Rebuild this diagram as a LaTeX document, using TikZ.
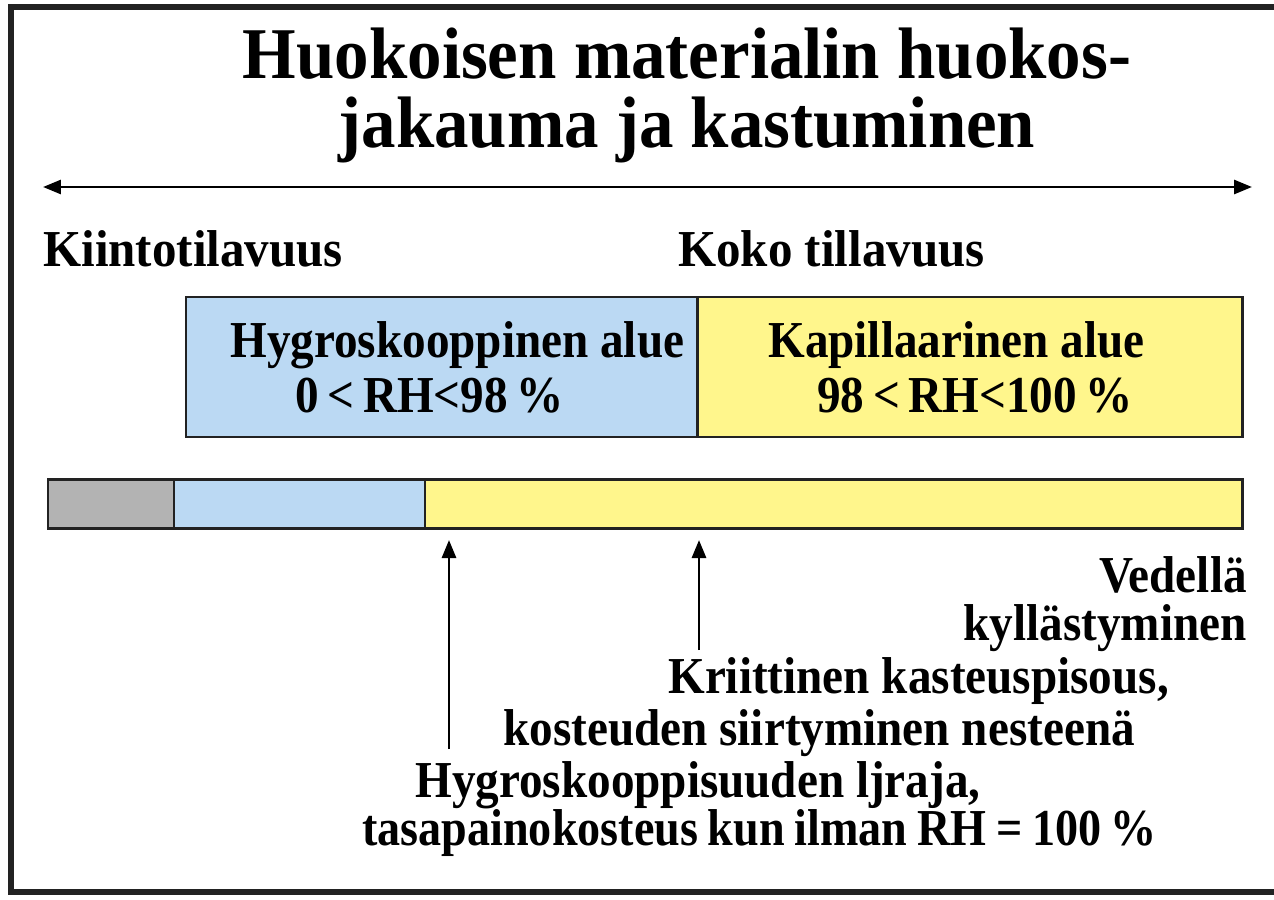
\documentclass[tikz,border=0pt]{standalone}
\usepackage{fontspec}
\setmainfont[FakeStretch=0.91]{Liberation Serif}
\newfontfamily\titlefont[FakeStretch=0.945]{Liberation Serif}
\newfontfamily\narrowfont[FakeStretch=0.89]{Liberation Serif}
\usetikzlibrary{arrows.meta}

\definecolor{framegray}{HTML}{222222}
\definecolor{hygblue}{HTML}{BBD9F3}
\definecolor{kapyellow}{HTML}{FFF68C}
\definecolor{solidgray}{HTML}{B3B3B3}

\tikzset{
  txt/.style={inner sep=0pt, font=\bfseries\fontsize{29.5}{34}\selectfont},
  ttl/.style={inner sep=0pt, font=\titlefont\bfseries\fontsize{41.5}{48}\selectfont},
  zone/.style={draw=framegray, line width=1.7pt},
  pointer/.style={line width=1.6pt, -{Triangle[length=0.36cm, width=0.28cm]}},
}

\begin{document}
\begin{tikzpicture}[x=0.02cm, y=-0.02cm]
	\fill [white] (0, 0) rectangle (1274, 899);
	\useasboundingbox (0, 0) rectangle (1274, 899);

	% frame, open on the right
	\draw [framegray, line width=3.4pt] (1274, 7) -- (11, 7) -- (11, 892) -- (1274, 892);

	% title
	\node [ttl, anchor=base] (title1) at (687, 78) {Huokoisen materialin huokos-};
	\node [ttl, anchor=base] (title2) at (687, 147) {jakauma ja kastuminen};

	\coordinate (scaleL) at (43, 187);
	\coordinate (scaleR) at (1252, 187);
	\draw [line width=1.6pt, {Triangle[length=0.36cm, width=0.28cm]}-{Triangle[length=0.36cm, width=0.28cm]}] (scaleL) -- (scaleR);

	\node [txt, font=\titlefont\bfseries\fontsize{29.5}{34}\selectfont, anchor=base west] (solid) at (43, 266) {Kiintotilavuus};
	\node [txt, font=\titlefont\bfseries\fontsize{29.5}{34}\selectfont, anchor=base west] (total) at (678, 266) {Koko tillavuus};

	% upper zones
	\coordinate (Z1) at (186, 297);
	\coordinate (Z2) at (697, 437);
	\coordinate (Z3) at (1242, 297);
	\fill [hygblue] (Z1) rectangle (Z2);
	\fill [kapyellow] (Z2) rectangle (Z3);
	\draw [zone] (Z1) rectangle (Z3 |- Z2);
	\draw [zone] (Z1 -| Z2) -- (Z2);

	\node [txt, anchor=base west] (hygzone) at (230, 357) {Hygroskooppinen alue};
	\node [txt, anchor=base west] (hygrange) at (295, 412) {0\,<\,RH<98\,\%};
	\node [txt, anchor=base west] (kapzone) at (768, 357) {Kapillaarinen alue};
	\node [txt, anchor=base west] (kaprange) at (817, 412) {98\,<\,RH<100\,\%};

	% lower bar
	\coordinate (B1) at (48, 479);
	\coordinate (B2) at (174, 528);
	\coordinate (B3) at (425, 479);
	\coordinate (B4) at (1242, 528);
	\fill [solidgray] (B1) rectangle (B2);
	\fill [hygblue] (B2 |- B1) rectangle (B3 |- B2);
	\fill [kapyellow] (B3) rectangle (B4);
	\draw [zone] (B1) rectangle (B4);
	\draw [zone] (B2 |- B1) -- (B2);
	\draw [zone] (B3) -- (B3 |- B4);

	\node [txt, anchor=base east] (sat1) at (1247, 592) {Vedellä};
	\node [txt, anchor=base east] (sat2) at (1247, 640) {kyllästyminen};

	\node [txt, anchor=base west] (crit1) at (668, 693) {Kriittinen kasteuspisous,};
	\node [txt, anchor=base west] (crit2) at (503, 745) {kosteuden siirtyminen nesteenä};
	\node [txt, anchor=base west] (hlim1) at (415, 797) {Hygroskooppisuuden ljraja,};
	\node [txt, font=\narrowfont\bfseries\fontsize{29.5}{34}\selectfont, anchor=base west] (hlim2) at (362, 845) {\spaceskip=0.19em\relax tasapainokosteus kun ilman RH = 100\,\%};

	% pointers up to the bar
	\coordinate (hlimfoot) at (449, 749);
	\coordinate (critfoot) at (699, 650);
	\draw [pointer] (hlimfoot) -- ([yshift=-0.24cm] hlimfoot |- B4);
	\draw [pointer] (critfoot) -- ([yshift=-0.24cm] critfoot |- B4);

\end{tikzpicture}
\end{document}
